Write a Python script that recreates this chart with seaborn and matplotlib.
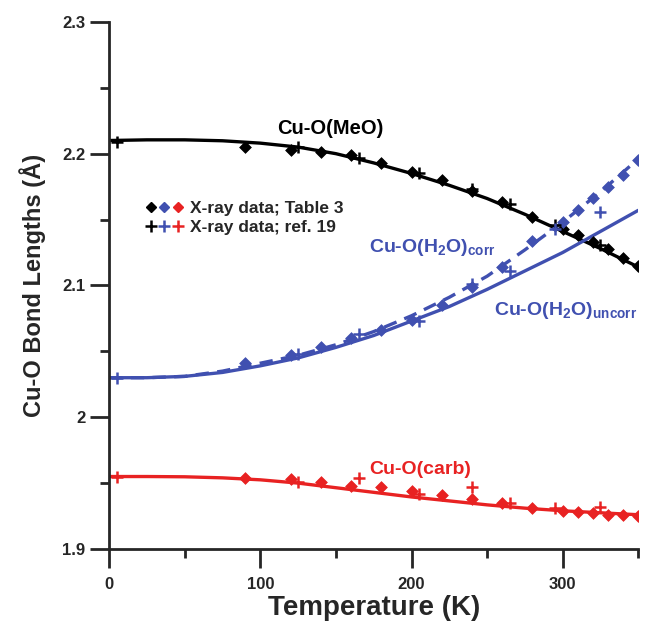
import matplotlib
matplotlib.use("Agg")
import matplotlib.pyplot as plt
import seaborn as sns
from matplotlib.ticker import MultipleLocator, FuncFormatter
from matplotlib.legend_handler import HandlerTuple
from matplotlib.lines import Line2D

# fitted curves, every 25 K
curve_t = [0, 25, 50, 75, 100, 125, 150, 175, 200, 225, 250, 275, 300, 325, 350]
meo_curve = [2.210, 2.2105, 2.2105, 2.2098, 2.208, 2.205, 2.200, 2.193, 2.185,
             2.176, 2.166, 2.154, 2.141, 2.128, 2.114]
h2o_uncorr_curve = [2.030, 2.030, 2.031, 2.034, 2.039, 2.045, 2.053, 2.062, 2.073,
                    2.084, 2.097, 2.111, 2.125, 2.141, 2.157]
h2o_corr_curve = [2.030, 2.030, 2.031, 2.035, 2.041, 2.047, 2.055, 2.065, 2.077,
                  2.091, 2.107, 2.127, 2.148, 2.171, 2.196]
carb_curve = [1.955, 1.955, 1.9548, 1.954, 1.9525, 1.950, 1.9465, 1.943, 1.9395,
              1.9365, 1.9335, 1.931, 1.929, 1.9275, 1.926]

# X-ray data, Table 3 (diamonds)
tab3_t = [90, 120, 140, 160, 180, 200, 220, 240, 260, 280, 300, 310, 320, 330, 340, 350]
meo_tab3 = [2.205, 2.203, 2.201, 2.199, 2.193, 2.186, 2.180, 2.172, 2.163, 2.152,
            2.143, 2.138, 2.133, 2.128, 2.121, 2.115]
h2o_tab3 = [2.041, 2.047, 2.053, 2.060, 2.066, 2.074, 2.085, 2.099, 2.114, 2.134,
            2.148, 2.157, 2.166, 2.175, 2.184, 2.195]
carb_tab3 = [1.954, 1.953, 1.951, 1.948, 1.947, 1.944, 1.941, 1.938, 1.935, 1.931,
             1.929, 1.928, 1.927, 1.926, 1.926, 1.925]

# X-ray data, ref. 19 (crosses)
ref19_t = [5, 125, 165, 205, 240, 265, 295, 325]
meo_ref19 = [2.209, 2.205, 2.197, 2.185, 2.173, 2.162, 2.146, 2.131]
h2o_ref19 = [2.030, 2.048, 2.063, 2.073, 2.101, 2.111, 2.143, 2.156]
carb_ref19 = [1.955, 1.951, 1.954, 1.942, 1.947, 1.935, 1.931, 1.932]

black = "#000000"
blue = "#4050b0"
red = "#e82222"

sns.set_style("ticks")
plt.rcParams["font.family"] = ["Liberation Sans", "DejaVu Sans"]
plt.rcParams["font.weight"] = "bold"
plt.rcParams["axes.labelweight"] = "bold"
plt.rcParams["mathtext.fontset"] = "custom"
plt.rcParams["mathtext.bf"] = "Liberation Sans:bold"
plt.rcParams["mathtext.rm"] = "Liberation Sans:bold"
plt.rcParams["mathtext.default"] = "bf"

fig = plt.figure(figsize=(6.46, 6.26), dpi=100)
ax = fig.add_axes([0.169, 0.123, 0.819, 0.842])

lw = 2.4
sns.lineplot(x=curve_t, y=meo_curve, color=black, lw=lw, ax=ax)
sns.lineplot(x=curve_t, y=h2o_uncorr_curve, color=blue, lw=lw, ax=ax)
sns.lineplot(x=curve_t, y=h2o_corr_curve, color=blue, lw=lw, ax=ax,
             linestyle=(0, (4, 2.5)))
sns.lineplot(x=curve_t, y=carb_curve, color=red, lw=lw, ax=ax)

for vals, c in [(meo_tab3, black), (h2o_tab3, blue), (carb_tab3, red)]:
    sns.scatterplot(x=tab3_t, y=vals, marker="D", s=36, color=c,
                    edgecolor=c, linewidth=0.5, ax=ax, zorder=3)
for vals, c in [(meo_ref19, black), (h2o_ref19, blue), (carb_ref19, red)]:
    ax.plot(ref19_t, vals, "+", color=c, ms=9, mew=1.8, zorder=3)

ax.set_xlim(0, 350)
ax.set_ylim(1.9, 2.3)
ax.xaxis.set_major_locator(MultipleLocator(100))
ax.xaxis.set_minor_locator(MultipleLocator(50))
ax.yaxis.set_major_locator(MultipleLocator(0.1))
ax.yaxis.set_minor_locator(MultipleLocator(0.05))
ax.yaxis.set_major_formatter(FuncFormatter(lambda v, p: f"{v:g}"))
ax.tick_params(which="major", length=14, width=2, labelsize=12, direction="out")
ax.tick_params(which="minor", length=6.5, width=2, direction="out")
ax.tick_params(axis="x", pad=6)
ax.tick_params(axis="y", pad=3)
for s in ["left", "bottom"]:
    ax.spines[s].set_linewidth(2)
sns.despine(ax=ax)

ax.set_xlabel("Temperature (K)", fontsize=20, labelpad=2)
ax.set_ylabel("Cu-O Bond Lengths (Å)", fontsize=17, labelpad=12)

ax.text(146, 2.219, "Cu-O(MeO)", color=black, fontsize=14.5, ha="center", va="center")
ax.text(214, 2.129, "Cu-O(H$_2$O)$_{corr}$", color=blue, fontsize=14,
        ha="center", va="center")
ax.text(302, 2.081, "Cu-O(H$_2$O)$_{uncorr}$", color=blue, fontsize=14,
        ha="center", va="center")
ax.text(206, 1.960, "Cu-O(carb)", color=red, fontsize=14, ha="center", va="center")

diam = [Line2D([], [], marker="D", ls="none", color=c, ms=5.5) for c in (black, blue, red)]
plus = [Line2D([], [], marker="+", ls="none", color=c, ms=8, mew=1.8) for c in (black, blue, red)]
ax.legend([tuple(diam), tuple(plus)], ["X-ray data; Table 3", "X-ray data; ref. 19"],
          handler_map={tuple: HandlerTuple(ndivide=None, pad=0.1)},
          loc="upper left", bbox_to_anchor=(0.068, 0.66), frameon=False,
          borderaxespad=0, borderpad=0, handlelength=2.2, handletextpad=0.4,
          labelspacing=0.2, prop={"size": 12.5, "weight": "bold"})

fig.savefig("out.png", dpi=100)
